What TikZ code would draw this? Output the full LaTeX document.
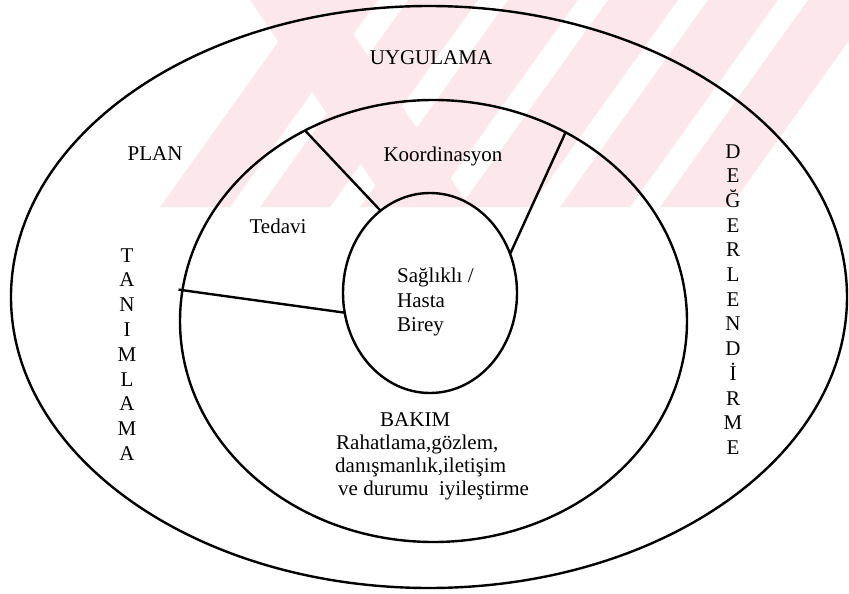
\documentclass[tikz,border=0pt]{standalone}
\usepackage{fontspec}
\setmainfont{Liberation Serif}
\usetikzlibrary{shapes.geometric}
\definecolor{wmpink}{RGB}{252,232,236}
\begin{document}
\begin{tikzpicture}[x=1pt,y=-1pt,
  ring/.style={ellipse,draw=black,line width=2.4pt,inner sep=0pt,outer sep=0pt},
  spoke/.style={draw=black,line width=2.4pt},
  lbl/.style={font=\fontsize{21}{24}\selectfont,inner sep=0pt,anchor=base},
  lbll/.style={lbl,anchor=base west}]
\useasboundingbox (0,0) rectangle (849,594);
% faint watermark in the top band
\begin{scope}
  \clip (0,0) rectangle (849,207);
  \fill[wmpink] (250,0) -- (330,0) -- (470,207) -- (390,207) -- cycle;
  \foreach \x in {160,260,360,460,560,660}
    \fill[wmpink] (\x,207) -- (\x+70,207) -- (\x+218,0) -- (\x+148,0) -- cycle;
\end{scope}
% rings
\node[ring,minimum width=836pt,minimum height=582pt] (outer) at (429,297) {};
\node[ring,minimum width=507pt,minimum height=442pt] (mid) at (433.5,321) {};
\node[ring,minimum width=174pt,minimum height=200pt] (inner) at (430,293) {};
% spokes
\draw[spoke] (mid.124.4) -- (inner.121.6);
\draw[spoke] (mid.55.2) -- (inner.26.3);
\draw[spoke,shorten <=-4pt] (mid.173.3) -- (inner.193.2);
% labels
\node[lbl] (uyg) at (431,65) {UYGULAMA};
\node[lbl] (plan) at (155,160) {PLAN};
\node[lbl] (koor) at (443,161) {Koordinasyon};
\node[lbl] (ted) at (278,233) {Tedavi};
\node[lbll] (s1) at (397,282) {Sağlıklı /};
\node[lbll] (s2) at (397,307) {Hasta};
\node[lbll] (s3) at (397,331) {Birey};
\node[lbll] (b0) at (380,426) {BAKIM};
\node[lbll] (b1) at (336,449) {Rahatlama,gözlem,};
\node[lbll] (b2) at (335,472) {danışmanlık,iletişim};
\node[lbll] (b3) at (338,495) {ve durumu\ \ iyileştirme};
\foreach \c [count=\i] in {T,A,N,I,M,L,A,M,A}
  \node[lbl] (tan\i) at (127,{262+(\i-1)*24.8}) {\c};
\foreach \c [count=\i] in {D,E,Ğ,E,R,L,E,N,D,İ,R,M,E}
  \node[lbl] (deg\i) at (733,{158+(\i-1)*24.7}) {\c};
\end{tikzpicture}
\end{document}
